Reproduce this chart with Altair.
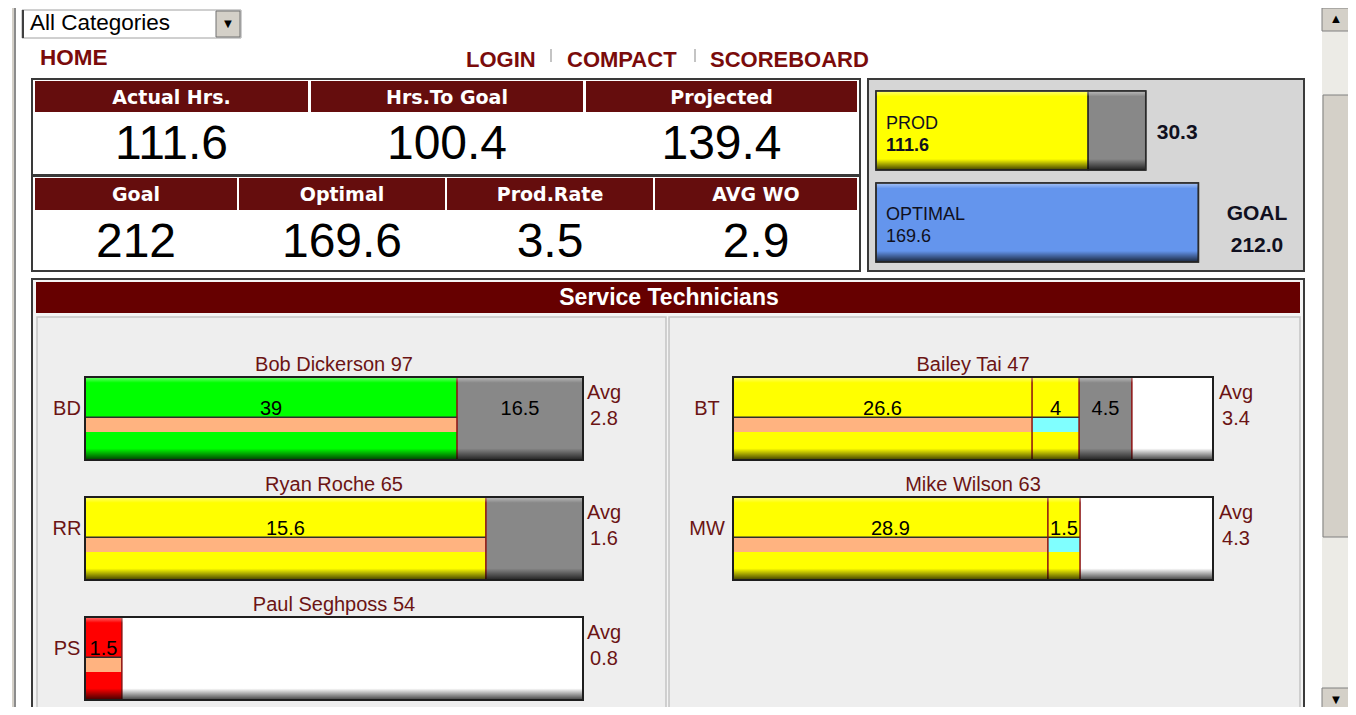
import altair as alt
import pandas as pd

# ---------------- data ----------------
filter_label = "All Categories"
home_label = "HOME"
nav_links = ["LOGIN", "COMPACT", "SCOREBOARD"]

kpi_top_labels = ["Actual Hrs.", "Hrs.To Goal", "Projected"]
kpi_top_values = ["111.6", "100.4", "139.4"]
kpi_bottom_labels = ["Goal", "Optimal", "Prod.Rate", "AVG WO"]
kpi_bottom_values = ["212", "169.6", "3.5", "2.9"]

prod_hours = 111.6
prod_remaining = 30.3
optimal_hours = 169.6
goal_hours = 212.0

section_title = "Service Technicians"
tech_codes = ["BD", "RR", "PS", "BT", "MW"]
tech_names = ["Bob Dickerson", "Ryan Roche", "Paul Seghposs", "Bailey Tai", "Mike Wilson"]
tech_scores = [97, 65, 54, 47, 63]
tech_avgs = [2.8, 1.6, 0.8, 3.4, 4.3]

# bar segments (share of each technician bar, in %)
seg_tech = ["BD", "BD", "RR", "RR", "PS", "PS", "BT", "BT", "BT", "BT", "MW", "MW", "MW"]
seg_kind = ["green", "gray", "yellow", "gray", "red", "open", "yellow", "yellow", "gray", "open", "yellow", "yellow", "open"]
seg_share = [74.7, 25.3, 80.5, 19.5, 7.4, 92.6, 62.3, 9.8, 11.0, 16.9, 65.6, 6.7, 27.7]
seg_label = ["39", "16.5", "15.6", "", "1.5", "", "26.6", "4", "4.5", "", "28.9", "1.5", ""]
seg_band = ["salmon", "", "salmon", "", "salmon", "", "salmon", "cyan", "", "", "salmon", "cyan", ""]

# ---------------- layout / style ----------------
W, H, M = 1340, 699, 8
SANS = "Liberation Sans, Arial, sans-serif"
HEAD = "DejaVu Sans, Verdana, sans-serif"
MAROON = "#650d0d"
LINK = "#7a0b0b"
NAME_C = "#6b1414"

TECH_COL = [0, 0, 0, 1, 1]
TECH_ROW = [0, 1, 2, 0, 1]
BAR_X = {0: (85, 583), 1: (733, 1213)}
INIT_X = {0: 67, 1: 707}
AVG_X = {0: 604, 1: 1236}
BAR_TOP0, ROW_PITCH, BAR_H = 377, 120, 83

KIND_DOMAIN = ["green", "yellow", "gray", "red", "open"]
KIND_RANGE = ["#00ff00", "#ffff00", "#888888", "#ff0000", "#ffffff"]
BAND_DOMAIN = ["salmon", "cyan"]
BAND_RANGE = ["#ffb380", "#80ffff"]

bevel = alt.LinearGradient(
    gradient="linear", x1=0, x2=0, y1=0, y2=1,
    stops=[
        alt.GradientStop(color="rgba(255,255,255,0.45)", offset=0),
        alt.GradientStop(color="rgba(255,255,255,0)", offset=0.07),
        alt.GradientStop(color="rgba(0,0,0,0)", offset=0.86),
        alt.GradientStop(color="rgba(0,0,0,0.75)", offset=1),
    ],
)


def px_x(field):
    return alt.X(f"{field}:Q", scale=alt.Scale(domain=[M, M + W], range=[0, W]), axis=None)


def px_y(field):
    return alt.Y(f"{field}:Q", scale=alt.Scale(domain=[M, M + H], range=[0, H]), axis=None)


def box_layer(rows):
    df = pd.DataFrame(rows, columns=["x", "x2", "y", "y2", "fill", "stroke", "sw"])
    return alt.Chart(df).mark_rect().encode(
        x=px_x("x"), x2="x2", y=px_y("y"), y2="y2",
        fill=alt.Fill("fill:N", scale=None),
        stroke=alt.Stroke("stroke:N", scale=None),
        strokeWidth=alt.StrokeWidth("sw:Q", scale=None),
    )


def text_layer(xs, ys, labels, **mark):
    df = pd.DataFrame({"x": xs, "y": ys, "t": labels})
    return alt.Chart(df).mark_text(**mark).encode(x=px_x("x"), y=px_y("y"), text="t:N")


layers = []

# left frame of the page
layers.append(box_layer([
    (12, 14, M, M + H, "#d4d0c8", "transparent", 0),
    (14, 16, M, M + H, "#8c8c8c", "transparent", 0),
]))

# dropdown
layers.append(box_layer([
    (22, 241, 10, 38, "#ffffff", "#a0a0a0", 1),
    (22, 24, 10, 38, "#404040", "transparent", 0),
    (216, 240, 11, 37, "#d4d0c8", "#707070", 1),
]))
layers.append(text_layer([30], [30], [filter_label], font=SANS, fontSize=22.5, color="#000000",
                         align="left", baseline="alphabetic"))
layers.append(text_layer([228], [24], ["\u25BC"], font=SANS, fontSize=13, color="#000000",
                         align="center", baseline="middle"))

# navigation
layers.append(text_layer([40], [65], [home_label], font=SANS, fontSize=22.5, fontWeight="bold",
                         color=LINK, align="left", baseline="alphabetic"))
layers.append(text_layer([466, 567, 710], [67, 67, 67], nav_links, font=SANS, fontSize=22,
                         fontWeight="bold", color=LINK, align="left", baseline="alphabetic"))
layers.append(box_layer([
    (550, 552, 49, 62, "#c4c4c4", "transparent", 0),
    (694, 696, 49, 62, "#c4c4c4", "transparent", 0),
]))

# KPI tables
top_cells = [(35, 308), (311, 583), (586, 857)]
bot_cells = [(35, 237), (239, 445), (447, 653), (655, 857)]
layers.append(box_layer([
    (32, 860, 79, 175, "#ffffff", "#3a3a3a", 2),
    (32, 860, 176, 271, "#ffffff", "#3a3a3a", 2),
]))
layers.append(box_layer(
    [(a, b, 81, 112, MAROON, "transparent", 0) for a, b in top_cells]
    + [(a, b, 178, 210, MAROON, "transparent", 0) for a, b in bot_cells]
))
layers.append(text_layer([(a + b) / 2 for a, b in top_cells], [104] * 3, kpi_top_labels,
                         font=HEAD, fontSize=19, fontWeight="bold", color="#ffffff",
                         align="center", baseline="alphabetic"))
layers.append(text_layer([(a + b) / 2 for a, b in bot_cells], [201] * 4, kpi_bottom_labels,
                         font=HEAD, fontSize=19, fontWeight="bold", color="#ffffff",
                         align="center", baseline="alphabetic"))
layers.append(text_layer([(a + b) / 2 for a, b in top_cells], [159] * 3, kpi_top_values,
                         font=SANS, fontSize=48, color="#000000", align="center", baseline="alphabetic"))
layers.append(text_layer([(a + b) / 2 for a, b in bot_cells], [257] * 4, kpi_bottom_values,
                         font=SANS, fontSize=48, color="#000000", align="center", baseline="alphabetic"))

# summary panel
layers.append(box_layer([(868, 1304, 79, 271, "#d6d6d6", "#3a3a3a", 2)]))
SUM_X0, SUM_X1 = 876, 1279
sx = alt.Scale(domain=[0, goal_hours], range=[SUM_X0 - M, SUM_X1 - M])


def sx_enc(f):
    return alt.X(f"{f}:Q", scale=sx, axis=None)


sum_df = pd.DataFrame({
    "start": [0, prod_hours, 0],
    "end": [prod_hours, prod_hours + prod_remaining, optimal_hours],
    "kind": ["actual", "remaining", "optimal"],
    "top": [91, 91, 183],
    "bot": [170, 170, 262],
})
layers.append(alt.Chart(sum_df).mark_rect(stroke="#2a2a2a", strokeWidth=1.5).encode(
    x=sx_enc("start"), x2="end", y=px_y("top"), y2="bot",
    fill=alt.Fill("kind:N", scale=alt.Scale(domain=["actual", "remaining", "optimal"],
                                            range=["#ffff00", "#888888", "#6495ed"]), legend=None),
))
sum_over = pd.DataFrame({"zero": [0, 0], "end": [prod_hours + prod_remaining, optimal_hours],
                         "top": [91, 183], "bot": [170, 262]})
layers.append(alt.Chart(sum_over).mark_rect(fill=bevel).encode(
    x=sx_enc("zero"), x2="end", y=px_y("top"), y2="bot"))
layers.append(alt.Chart(sum_over).mark_rect(fill="transparent", stroke="#2a2a2a", strokeWidth=1.5).encode(
    x=sx_enc("zero"), x2="end", y=px_y("top"), y2="bot"))

sum_txt = pd.DataFrame({
    "x": [0, 0, 0, 0],
    "y": [129, 151, 220, 242],
    "t": ["PROD", f"{prod_hours:.1f}", "OPTIMAL", f"{optimal_hours:.1f}"],
    "w": ["normal", "bold", "normal", "normal"],
})
for w in ["normal", "bold"]:
    layers.append(alt.Chart(sum_txt[sum_txt.w == w]).mark_text(
        font=SANS, fontSize=18, fontWeight=w, color="#101020", align="left", baseline="alphabetic", dx=10
    ).encode(x=sx_enc("x"), y=px_y("y"), text="t:N"))
layers.append(alt.Chart(pd.DataFrame({"x": [prod_hours + prod_remaining], "y": [139],
                                      "t": [f"{prod_remaining:.1f}"]})).mark_text(
    font=SANS, fontSize=21, fontWeight="bold", color="#101020", align="left", baseline="alphabetic", dx=11
).encode(x=sx_enc("x"), y=px_y("y"), text="t:N"))
layers.append(alt.Chart(pd.DataFrame({"x": [goal_hours, goal_hours], "y": [220, 252],
                                      "t": ["GOAL", f"{goal_hours:.1f}"]})).mark_text(
    font=SANS, fontSize=21, fontWeight="bold", color="#101020", align="center", baseline="alphabetic", dx=-22
).encode(x=sx_enc("x"), y=px_y("y"), text="t:N"))

# service technicians section
layers.append(box_layer([
    (32, 1304, 279, 730, "#f4f4f4", "#3a3a3a", 2),
    (36, 1300, 282, 313, "#660000", "transparent", 0),
    (37, 666, 317, 730, "#eeeeee", "#c4c4c4", 1.5),
    (669, 1300, 317, 730, "#eeeeee", "#c4c4c4", 1.5),
]))
layers.append(text_layer([669], [305], [section_title], font=SANS, fontSize=23, fontWeight="bold",
                         color="#ffffff", align="center", baseline="alphabetic"))

tech_df = pd.DataFrame({"code": tech_codes, "name": tech_names, "score": tech_scores, "avg": tech_avgs})
tech_df["col"] = TECH_COL
tech_df["top"] = [BAR_TOP0 + ROW_PITCH * r for r in TECH_ROW]
tech_df["bot"] = tech_df["top"] + BAR_H
tech_df["title"] = tech_df["name"] + " " + tech_df["score"].astype(str)
tech_df["avg_txt"] = tech_df["avg"].map(lambda v: f"{v:.1f}")
tech_df["zero"] = 0
tech_df["full"] = 100
tech_df["half"] = 50
tech_df["name_y"] = tech_df["top"] - 6
tech_df["lab_y"] = tech_df["top"] + 38
tech_df["avg_y1"] = tech_df["top"] + 22
tech_df["avg_y2"] = tech_df["top"] + 48

seg = pd.DataFrame({"code": seg_tech, "kind": seg_kind, "share": seg_share,
                    "label": seg_label, "band": seg_band})
seg["end"] = seg.groupby("code")["share"].cumsum().round(2)
seg["start"] = (seg["end"] - seg["share"]).round(2)
seg["mid"] = (seg["start"] + seg["end"]) / 2
seg = seg.merge(tech_df[["code", "col", "top", "bot", "lab_y"]], on="code")
seg["band_top"] = seg["top"] + 41
seg["band_bot"] = seg["top"] + 55
seg["line_top"] = seg["top"] + 39.5
seg["line_bot"] = seg["top"] + 41

for c in (0, 1):
    xs = alt.Scale(domain=[0, 100], range=[BAR_X[c][0] - M, BAR_X[c][1] - M])

    def cx(f, xs=xs):
        return alt.X(f"{f}:Q", scale=xs, axis=None)

    sc = seg[seg.col == c]
    tc = tech_df[tech_df.col == c]
    layers.append(alt.Chart(sc).mark_rect().encode(
        x=cx("start"), x2="end", y=px_y("top"), y2="bot",
        fill=alt.Fill("kind:N", scale=alt.Scale(domain=KIND_DOMAIN, range=KIND_RANGE), legend=None),
    ))
    sb = sc[sc.band != ""]
    layers.append(alt.Chart(sb).mark_rect().encode(
        x=cx("start"), x2="end", y=px_y("band_top"), y2="band_bot",
        fill=alt.Fill("band:N", scale=alt.Scale(domain=BAND_DOMAIN, range=BAND_RANGE), legend=None),
    ))
    layers.append(alt.Chart(sb).mark_rect(fill="#2e2e2e").encode(
        x=cx("start"), x2="end", y=px_y("line_top"), y2="line_bot"))
    layers.append(alt.Chart(sc[sc.end < 100]).mark_rule(color="#8b1010", strokeWidth=1.5).encode(
        x=cx("end"), y=px_y("top"), y2="bot"))
    layers.append(alt.Chart(tc).mark_rect(fill=bevel).encode(
        x=cx("zero"), x2="full", y=px_y("top"), y2="bot"))
    layers.append(alt.Chart(tc).mark_rect(fill="transparent", stroke="#1e1e1e", strokeWidth=2).encode(
        x=cx("zero"), x2="full", y=px_y("top"), y2="bot"))
    layers.append(alt.Chart(sc[sc.label != ""]).mark_text(
        font=SANS, fontSize=20, color="#000000", align="center", baseline="alphabetic"
    ).encode(x=cx("mid"), y=px_y("lab_y"), text="label:N"))
    layers.append(alt.Chart(tc).mark_text(
        font=SANS, fontSize=20, color=NAME_C, align="center", baseline="alphabetic"
    ).encode(x=cx("half"), y=px_y("name_y"), text="title:N"))
    layers.append(text_layer([INIT_X[c]] * len(tc), list(tc["lab_y"]), list(tc["code"]),
                             font=SANS, fontSize=20, color=NAME_C, align="center", baseline="alphabetic"))
    layers.append(text_layer([AVG_X[c]] * len(tc), list(tc["avg_y1"]), ["Avg"] * len(tc),
                             font=SANS, fontSize=20, color=NAME_C, align="center", baseline="alphabetic"))
    layers.append(text_layer([AVG_X[c]] * len(tc), list(tc["avg_y2"]), list(tc["avg_txt"]),
                             font=SANS, fontSize=20, color=NAME_C, align="center", baseline="alphabetic"))

# scrollbar
layers.append(box_layer([
    (1322, 1350, M, M + H, "#ecebe6", "transparent", 0),
    (1322, 1350, 8, 31, "#d4d0c8", "#808080", 1),
    (1323, 1349, 95, 537, "#d4d0c8", "#808080", 1),
    (1322, 1350, 688, 711, "#d4d0c8", "#808080", 1),
]))
layers.append(text_layer([1336, 1336], [19, 700], ["\u25B2", "\u25BC"], font=SANS, fontSize=13,
                         color="#000000", align="center", baseline="middle"))

chart = alt.layer(*layers).resolve_scale(
    x="independent", y="independent", fill="independent", stroke="independent"
).properties(
    width=W, height=H, padding=0, autosize="none", background="#ffffff"
).configure_view(strokeWidth=0)

chart.save("out.html", embed_options={"renderer": "svg", "actions": False})
